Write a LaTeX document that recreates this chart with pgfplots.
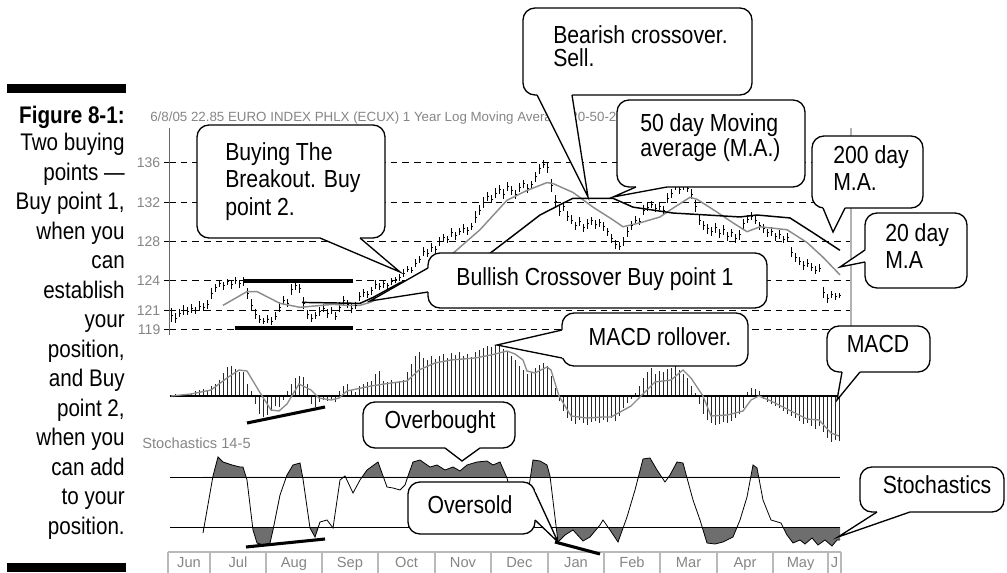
\documentclass[border=0pt]{standalone}
\usepackage{fontspec}
\setmainfont{Liberation Sans}[FakeStretch=0.86]
\newfontfamily\chartfont{Liberation Sans}
\usepackage{pgfplots}
\usepackage{pgfplotstable}
\pgfplotsset{compat=1.18}
\usetikzlibrary{calc}
\definecolor{lab}{HTML}{858585}
\definecolor{stfill}{HTML}{6E6E6E}
\definecolor{magray}{HTML}{8C8C8C}
\pgfdeclareplotmark{ctick}{\pgfpathmoveto{\pgfqpoint{0pt}{0pt}}\pgfpathlineto{\pgfqpoint{1.6pt}{0pt}}\pgfusepathqstroke}
\newcommand\cf{\fontsize{18.5}{21}\selectfont}
\newcommand\capf{\fontsize{18}{21}\selectfont}
\newcommand\smf{\chartfont\fontsize{10}{12}\selectfont}
\newcommand\mf{\chartfont\fontsize{11}{12}\selectfont}
\tikzset{ml/.style={text=lab,font=\mf,inner sep=0pt,anchor=base}}
\newcommand\callout[8]{%
  \filldraw[fill=white,draw=black,line width=1pt,rounded corners=9pt] (#1,#2) rectangle (#3,#4);
  \fill[white] #5 -- #7 -- #6 -- ($#6+#8$) -- ($#5+#8$) -- cycle;
  \draw[line width=1pt,line join=miter] #5 -- #7 -- #6;}

\pgfplotstableread{
j m h
0 120.5 0.7
1 120.2 0.5
2 120.7 0.4
3 121.0 0.5
4 120.9 0.4
5 121.2 0.45
6 121.0 0.35
7 121.4 0.5
8 121.3 0.4
9 121.6 0.45
10 122.7 0.6
11 123.3 0.4
12 123.7 0.35
13 123.5 0.4
14 123.9 0.3
15 123.6 0.45
16 124.0 0.35
17 123.7 0.4
18 123.9 0.45
19 122.7 0.6
20 121.5 0.6
21 120.6 0.5
22 120.1 0.4
23 119.9 0.35
24 120.1 0.4
25 119.9 0.45
26 120.4 0.4
27 121.3 0.5
28 122.0 0.45
29 121.7 0.4
30 123.1 0.55
31 123.5 0.4
32 123.2 0.45
33 121.7 0.6
34 120.6 0.45
35 120.2 0.4
36 120.5 0.35
37 120.9 0.45
38 121.2 0.4
39 120.7 0.45
40 121.0 0.35
41 120.4 0.4
42 121.3 0.5
43 122.0 0.45
44 121.6 0.4
45 121.2 0.45
46 121.5 0.35
47 122.4 0.45
48 122.8 0.4
49 122.6 0.35
50 123.0 0.4
51 123.6 0.45
52 123.4 0.35
53 123.7 0.4
54 123.5 0.3
55 123.9 0.35
56 124.1 0.3
57 124.3 0.35
58 124.8 0.4
59 125.2 0.35
60 125.1 0.3
61 125.8 0.4
62 126.2 0.35
63 127.0 0.45
64 126.8 0.4
65 127.4 0.45
66 127.2 0.35
67 128.0 0.45
68 128.4 0.4
69 128.2 0.35
70 128.9 0.45
71 128.6 0.4
72 129.0 0.35
73 129.3 0.45
74 129.1 0.4
75 129.5 0.35
76 130.5 0.6
77 131.2 0.5
78 132.0 0.55
79 132.6 0.45
80 132.3 0.4
81 132.9 0.5
82 133.3 0.45
83 132.8 0.5
84 133.6 0.45
85 133.2 0.5
86 132.8 0.45
87 133.5 0.5
88 133.9 0.4
89 133.4 0.45
90 133.8 0.4
91 134.6 0.5
92 135.4 0.5
93 135.9 0.45
94 135.5 0.5
95 133.7 0.7
96 132.1 0.6
97 131.1 0.5
98 131.6 0.45
99 130.6 0.5
100 130.2 0.45
101 129.6 0.4
102 130.0 0.45
103 129.4 0.4
104 129.8 0.5
105 130.1 0.4
106 129.7 0.45
107 129.9 0.4
108 129.5 0.45
109 129.0 0.4
110 128.3 0.5
111 127.7 0.45
112 127.5 0.4
113 128.0 0.45
114 129.0 0.5
115 129.6 0.45
116 130.2 0.4
117 130.0 0.35
118 131.2 0.5
119 131.5 0.4
120 131.8 0.35
121 131.4 0.4
122 131.6 0.35
123 131.2 0.45
124 132.4 0.5
125 132.9 0.45
126 133.6 0.4
127 133.3 0.45
128 133.6 0.4
129 133.4 0.35
130 132.8 0.5
131 131.6 0.6
132 130.2 0.5
133 129.6 0.45
134 129.3 0.5
135 129.0 0.45
136 129.4 0.5
137 128.8 0.45
138 129.2 0.5
139 128.5 0.45
140 128.9 0.4
141 128.3 0.45
142 128.7 0.5
143 129.8 0.5
144 130.3 0.45
145 130.6 0.4
146 130.2 0.45
147 129.6 0.4
148 129.3 0.45
149 128.9 0.4
150 129.0 0.45
151 128.5 0.4
152 128.7 0.45
153 128.2 0.4
154 128.4 0.45
155 126.9 0.5
156 126.4 0.45
157 126.0 0.4
158 125.6 0.45
159 125.8 0.4
160 125.4 0.45
161 125.1 0.4
162 125.3 0.45
163 122.8 0.6
164 122.2 0.45
165 122.6 0.4
166 122.4 0.35
167 122.5 0.3
}\price

\pgfplotstableread{
j v
13 121.5
19 122.9
21.5 122.9
27.25 121.7
29.75 121.5
32.25 121.3
40.5 121.6
44 121.5
47.25 121.5
49.75 121.8
55.5 122.9
60.5 124.4
70.5 126.8
77.25 129.2
84 132.2
89 133.2
94 134.0
95.5 133.9
100.5 133.0
105.5 131.5
110.5 130.2
113 129.5
117.25 129.9
122.25 130.5
125.5 131.4
129.75 132.5
131.5 132.3
136.5 131.0
140.5 129.9
144 129.0
147.25 129.5
154 129.2
159 127.9
163 126.4
167.25 124.6
}\matwenty

\pgfplotstableread{
j v
32.75 121.8
47.25 121.7
50.5 122.3
57.25 123.8
79.75 126.8
86.5 128.9
92.25 130.7
98 131.9
100.5 132.4
110.5 132.4
115.5 131.5
125.5 130.9
134 130.7
142.25 130.5
146.5 130.7
154.75 130.4
160.5 128.9
167.25 127.1
}\mafifty

\pgfplotstableread{
j v
0 0.01
1 0.02
2 0.01
3 -0.01
4 0.02
5 0.03
6 0.05
7 0.06
8 0.07
9 0.06
10 0.10
11 0.12
12 0.16
13 0.23
14 0.29
15 0.30
16 0.27
17 0.24
18 0.24
19 0.12
20 0.05
21 -0.08
22 -0.18
23 -0.21
24 -0.19
25 -0.15
26 -0.10
27 -0.11
28 -0.04
29 0.05
30 0.12
31 0.18
32 0.20
33 0.19
34 0.12
35 -0.08
36 -0.11
37 -0.06
38 -0.04
39 -0.05
40 -0.03
41 -0.06
42 0.05
43 0.10
44 0.12
45 0.06
46 0.04
47 0.10
48 0.12
49 0.14
50 0.15
51 0.22
52 0.25
53 0.15
54 0.14
55 0.16
56 0.13
57 0.15
58 0.16
59 0.24
60 0.32
61 0.40
62 0.44
63 0.38
64 0.36
65 0.40
66 0.37
67 0.40
68 0.42
69 0.38
70 0.43
71 0.41
72 0.44
73 0.40
74 0.42
75 0.39
76 0.44
77 0.46
78 0.48
79 0.50
80 0.49
81 0.51
82 0.50
83 0.47
84 0.44
85 0.40
86 0.36
87 0.30
88 0.26
89 0.22
90 0.24
91 0.28
92 0.31
93 0.33
94 0.30
95 0.20
96 0.08
97 -0.05
98 -0.15
99 -0.22
100 -0.25
101 -0.28
102 -0.24
103 -0.27
104 -0.29
105 -0.26
106 -0.25
107 -0.27
108 -0.24
109 -0.26
110 -0.22
111 -0.25
112 -0.20
113 -0.12
114 -0.07
115 -0.03
116 0.03
117 0.10
118 0.18
119 0.24
120 0.28
121 0.22
122 0.25
123 0.24
124 0.27
125 0.28
126 0.30
127 0.26
128 0.22
129 0.18
130 0.10
131 0.03
132 -0.08
133 -0.18
134 -0.24
135 -0.27
136 -0.29
137 -0.28
138 -0.26
139 -0.27
140 -0.25
141 -0.22
142 -0.18
143 -0.12
144 0.04
145 0.08
146 0.07
147 0.05
148 -0.03
149 -0.06
150 -0.08
151 -0.10
152 -0.12
153 -0.15
154 -0.18
155 -0.20
156 -0.22
157 -0.25
158 -0.28
159 -0.27
160 -0.30
161 -0.33
162 -0.30
163 -0.36
164 -0.42
165 -0.46
166 -0.44
167 -0.45
}\macd

\pgfplotstableread{
j v
0 0.0
5 0.02
10 0.06
14 0.18
17 0.26
19 0.25
22 0.05
25 -0.14
27 -0.15
29 -0.08
32 0.12
35 0.06
37 -0.02
40 -0.04
42 -0.02
44 0.05
50 0.10
55 0.13
59 0.15
62 0.26
66 0.33
70 0.36
76 0.38
80 0.41
84 0.45
86 0.42
88 0.36
89 0.25
91 0.23
94 0.29
95 0.26
97 0.0
100 -0.20
104 -0.22
108 -0.21
110 -0.21
115 -0.10
118 0.02
121 0.14
125 0.16
128 0.26
130 0.18
133 0.0
135 -0.20
139 -0.19
143 -0.15
145 -0.04
147 0.0
150 -0.05
156 -0.17
159 -0.23
162 -0.24
165 -0.37
167 -0.40
}\signal

\pgfplotstableread{
j v
8 19
10.5 76
11.75 95
13 90
15.25 87
17.25 85
18 85
19 72
20.5 22
21.5 9
23 7
24.75 9
25.5 22
27.25 57
29 77
30.5 87
32.25 89
33 73
34.75 24
36 15
37.25 30
39 32
40.5 24
42.25 72
43.5 76
45.5 59
47.25 72
49 82
51.75 90
54 65
55.5 64
57.25 62
58.5 67
59.25 76
60.5 90
62.25 92
64.75 85
66.5 87
68.5 82
70.5 85
72.25 81
74 87
76.5 90
79 91
80.5 87
82.25 90
84 74
85.5 49
87.25 47
89 52
90.5 92
92.25 91
94 87
94.75 76
96.75 10
98.5 17
100.5 22
103 11
104.75 15
107.25 27
108 32
109.75 22
111.75 10
114 35
116 62
118 93
119.75 94
121.5 82
123.5 70
124.75 77
126.5 90
128 89
129 74
130.5 52
132.25 32
134 9
136 8
138 10
140.5 15
142.25 32
144 55
145.5 87
146.5 84
148 52
150 32
152.5 29
154 17
155.5 9
157.25 12
158.5 8
160.25 14
161.75 7
163.5 12
165.25 6
166.5 12
167.25 12
}\stoch

\pgfplotsset{every axis/.append style={scale only axis}}

\begin{document}
\begin{tikzpicture}[x=0.75pt,y=-0.75pt]
\useasboundingbox (0,0) rectangle (1007,573);

% left caption column
\fill (7,84) rectangle (126,93);
\fill (7,563) rectangle (126,572);
\node[anchor=mid east,inner sep=0pt,font=\capf\bfseries] at (125,120) {Figure 8-1:};
\foreach \t [count=\i from 0] in {Two buying,points ---,{Buy point 1,},when you,can,establish,your,{position,},and Buy,{point 2,},when you,can add,to your,position.}
  \node[anchor=mid east,inner sep=0pt,font=\capf] at (125,{147+29.5*\i}) {\t};

% title and panel label
\node[anchor=mid west,inner sep=0pt,text=lab,font=\smf] at (150,118) {6/8/05 22.85 EURO INDEX PHLX (ECUX) 1 Year Log Moving Average 20-50-200};
\node[anchor=mid west,inner sep=0pt,text=lab,font=\mf] at (142,445) {Stochastics 14-5};

% price panel
\begin{axis}[at={(126.75pt,-251.25pt)},anchor=south west,width=511.5pt,height=155.25pt,
  xmin=-0.5,xmax=170,ymin=118.48,ymax=139.56,
  axis x line=none,axis y line*=left,
  y axis line style={draw=gray!80!black,line width=0.6pt},
  ytick={119,121,124,128,132,136},
  ymajorgrids,grid style={dash pattern=on 5pt off 3.75pt,line width=0.75pt,black},
  tick style={black,line width=0.75pt},major tick length=4pt,tick align=outside,
  yticklabel style={font={\chartfont\fontsize{10.5}{11}\selectfont},text=lab,/pgf/number format/assume math mode=true,xshift=1pt},
  clip=false]
\addplot[black,line width=0.6pt,only marks,mark=ctick,
  error bars/.cd,y dir=both,y explicit,error mark=none,
  error bar style={line width=0.6pt,black}] table[x=j,y=m,y error=h] {\price};
\addplot[magray,line width=1.1pt] table[x=j,y=v] {\matwenty};
\addplot[black,line width=1.1pt] table[x=j,y=v] {\mafifty};
\end{axis}
\draw[gray!60,line width=0.8pt] (851,128) -- (851,335);

% MACD panel
\begin{axis}[at={(126.75pt,-337.5pt)},anchor=south west,width=511.5pt,height=82.5pt,
  xmin=-0.5,xmax=170,ymin=-0.54,ymax=0.56,hide axis]
\addplot[ycomb,black!85,line width=0.55pt] table[x=j,y=v] {\macd};
\addplot[black,line width=0.8pt] coordinates {(-0.25,0) (167.25,0)};
\addplot[magray,line width=1pt] table[x=j,y=v] {\signal};
\end{axis}

% Stochastics: shaded zone above 75 (sub-axis clipped at 75)
\begin{axis}[at={(126.75pt,-357.75pt)},anchor=south west,width=511.5pt,height=27.75pt,
  xmin=-0.5,xmax=170,ymin=75,ymax=112,hide axis]
\addplot[fill=stfill,draw=none] table[x=j,y=v] {\stoch} \closedcycle;
\end{axis}
% Stochastics: shaded zone below 25 (reversed sub-axis, value 25 at its top)
\begin{axis}[at={(126.75pt,-414pt)},anchor=south west,width=511.5pt,height=18.75pt,
  xmin=-0.5,xmax=170,ymin=0,ymax=25,y dir=reverse,hide axis]
\addplot[fill=stfill,draw=none] table[x=j,y expr=25-\thisrow{v}] {\stoch} \closedcycle;
\end{axis}
% Stochastics line and levels
\begin{axis}[at={(126.75pt,-414pt)},anchor=south west,width=511.5pt,height=84pt,
  xmin=-0.5,xmax=170,ymin=0,ymax=112,hide axis]
\addplot[black,line width=0.6pt] table[x=j,y=v] {\stoch};
\addplot[black,line width=0.6pt] coordinates {(-0.25,75) (167.25,75)};
\addplot[black,line width=0.6pt] coordinates {(-0.25,25) (167.25,25)};
\end{axis}

% month strip
\begin{axis}[at={(126pt,-429.75pt)},anchor=south west,width=504.75pt,height=15.75pt,
  xmin=-0.75,xmax=167.5,ymin=0,ymax=1,hide axis,clip=false]
\addplot[ycomb,gray!55,line width=0.8pt] coordinates {(-0.75,1) (9.75,1) (23.75,1) (37.75,1) (51.75,1) (66,1) (80,1) (94.25,1) (108.25,1) (122.25,1) (136.5,1) (150.5,1) (164.25,1) (167.5,1)};
\addplot[gray!55,line width=0.8pt] coordinates {(-0.75,1) (167.5,1)};
\node[ml] at (axis cs:4.5,0.27) {Jun};
\node[ml] at (axis cs:16.75,0.27) {Jul};
\node[ml] at (axis cs:30.75,0.27) {Aug};
\node[ml] at (axis cs:44.75,0.27) {Sep};
\node[ml] at (axis cs:58.9,0.27) {Oct};
\node[ml] at (axis cs:73,0.27) {Nov};
\node[ml] at (axis cs:87.1,0.27) {Dec};
\node[ml] at (axis cs:101.25,0.27) {Jan};
\node[ml] at (axis cs:115.25,0.27) {Feb};
\node[ml] at (axis cs:129.4,0.27) {Mar};
\node[ml] at (axis cs:143.5,0.27) {Apr};
\node[ml] at (axis cs:157.4,0.27) {May};
\node[ml] at (axis cs:165.9,0.27) {J};
\end{axis}

% hand-drawn trend lines
\draw[line width=2.3pt] (243,281) -- (353,281);
\draw[line width=2.3pt] (235,328) -- (353,328);
\draw[line width=2.3pt] (247,423) -- (325,407);
\draw[line width=2.3pt] (246,547) -- (325,539);
\draw[line width=2.3pt] (555,542) -- (600,554);

% callouts
\callout{523}{8}{752}{95}{(537,95)}{(572,95)}{(588,197)}{(0,-3)}
\node[anchor=mid west,inner sep=0pt,font=\cf] at (553,40) {Bearish crossover.};
\node[anchor=mid west,inner sep=0pt,font=\cf] at (553,63) {Sell.};

\callout{617}{100}{805}{187}{(636,187)}{(667,187)}{(613,197)}{(0,-3)}
\node[anchor=mid west,inner sep=0pt,font=\cf] at (640,128) {50 day Moving};
\node[anchor=mid west,inner sep=0pt,font=\cf] at (640,153) {average (M.A.)};

\callout{812}{136}{923}{208}{(823,208)}{(845,208)}{(833,232)}{(0,-3)}
\node[anchor=mid west,inner sep=0pt,font=\cf] at (833,160) {200 day};
\node[anchor=mid west,inner sep=0pt,font=\cf] at (833,187) {M.A.};

\callout{865}{213}{967}{288}{(865,250)}{(865,262)}{(840,267)}{(3,0)}
\node[anchor=mid west,inner sep=0pt,font=\cf] at (885,238) {20 day};
\node[anchor=mid west,inner sep=0pt,font=\cf] at (885,265) {M.A};

\callout{428}{253}{767}{308}{(428,268)}{(428,292)}{(370,301)}{(3,0)}
\node[anchor=mid,inner sep=0pt,font=\cf] at (595,282) {Bullish Crossover Buy point 1};

\callout{197}{125}{385}{238}{(320,238)}{(360,238)}{(400,272)}{(0,-3)}
\node[anchor=mid west,inner sep=0pt,font=\cf] at (225,157) {Buying The};
\node[anchor=mid west,inner sep=0pt,font=\cf] at (225,184) {Breakout. Buy};
\node[anchor=mid west,inner sep=0pt,font=\cf] at (225,212) {point 2.};

\callout{562}{313}{748}{366}{(562,330)}{(562,358)}{(497,345)}{(3,0)}
\node[anchor=mid,inner sep=0pt,font=\cf] at (660,342) {MACD rollover.};

\callout{827}{326}{930}{372}{(842,372)}{(860,372)}{(837,400)}{(0,-3)}
\node[anchor=mid,inner sep=0pt,font=\cf] at (878,349) {MACD};

\callout{363}{402}{515}{448}{(445,448)}{(480,448)}{(462,461)}{(0,-3)}
\node[anchor=mid,inner sep=0pt,font=\cf] at (440,425) {Overbought};

\callout{408}{482}{535}{534}{(535,492)}{(535,520)}{(558,542)}{(-3,0)}
\node[anchor=mid,inner sep=0pt,font=\cf] at (470,510) {Oversold};

\callout{860}{467}{1004}{512}{(877,512)}{(910,512)}{(838,537)}{(0,-3)}
\node[anchor=mid,inner sep=0pt,font=\cf] at (937,490) {Stochastics};
\end{tikzpicture}
\end{document}
